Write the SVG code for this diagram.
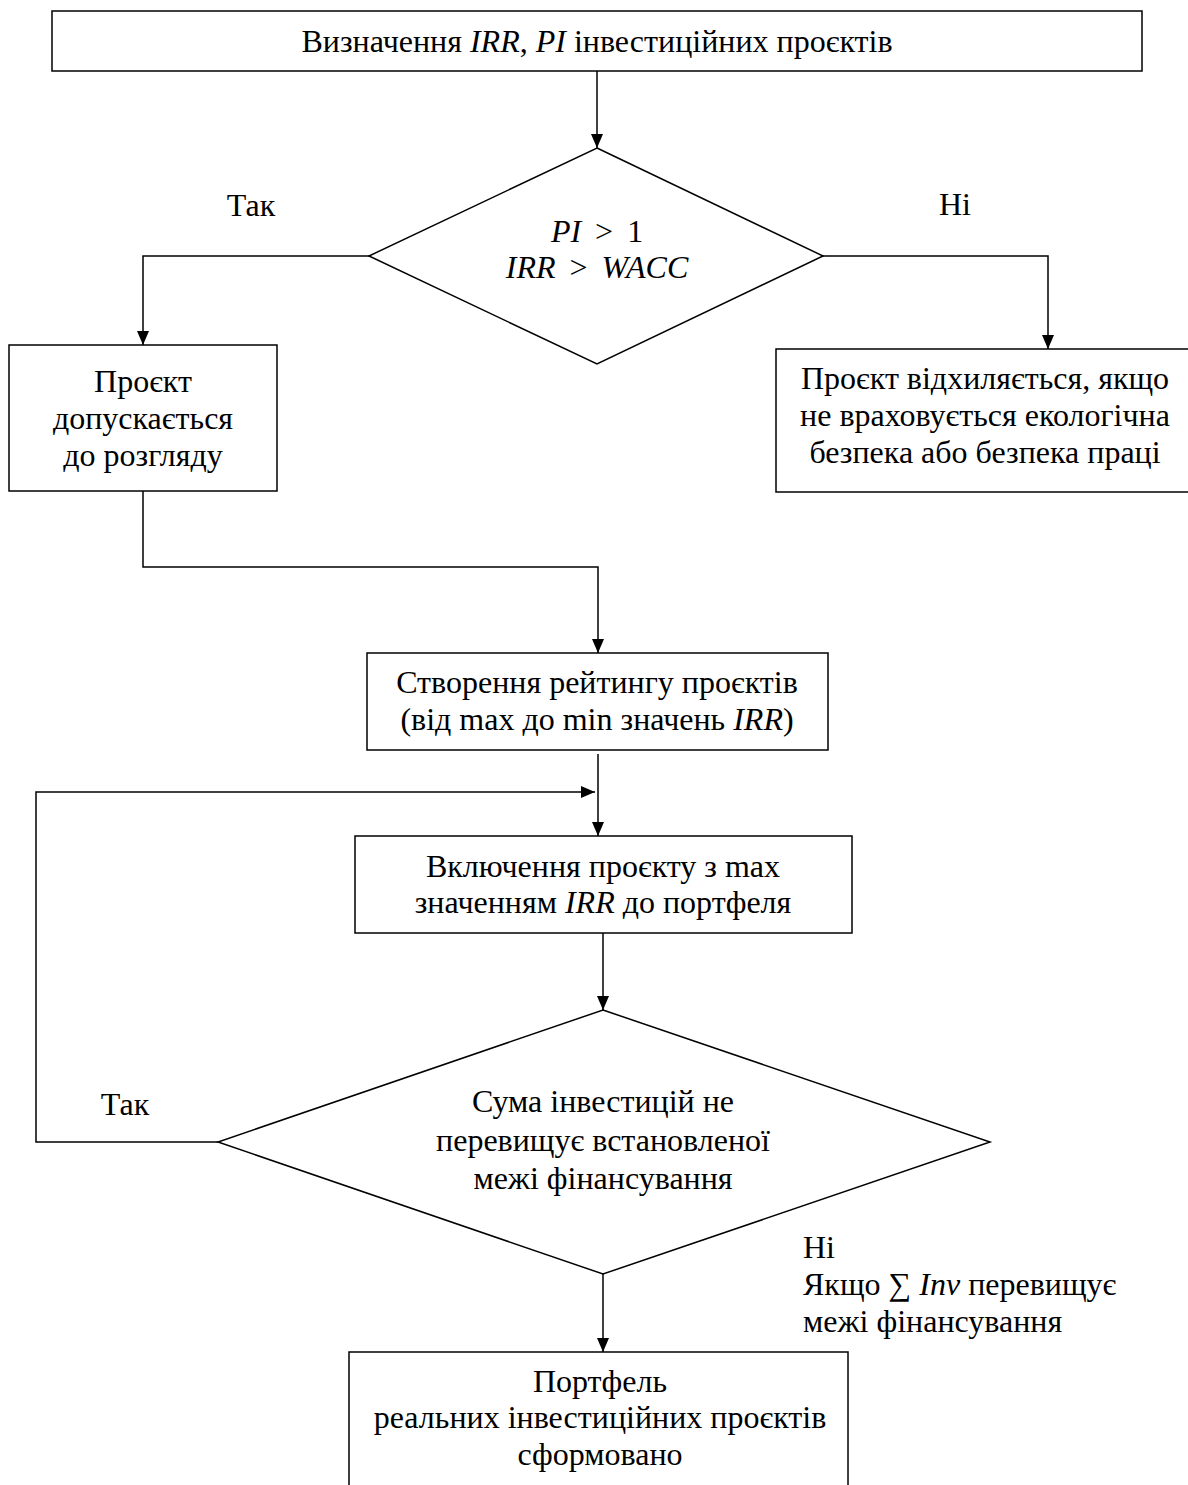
<svg xmlns="http://www.w3.org/2000/svg" width="1188" height="1485" viewBox="0 0 1188 1485">
<style>
  .box{fill:#fff;stroke:#000;stroke-width:1.5}
  .ln{fill:none;stroke:#000;stroke-width:1.5}
  text{font-family:"Liberation Serif","Times New Roman","DejaVu Serif",serif;font-size:32px;fill:#000}
  .c{text-anchor:middle}
  .i{font-style:italic}
</style>
<defs>
  <marker id="ah" viewBox="0 0 14 12" refX="14" refY="6" markerWidth="14" markerHeight="12" markerUnits="userSpaceOnUse" orient="auto">
    <path d="M0,0 L14,6 L0,12 z" fill="#000"/>
  </marker>
</defs>
<rect x="0" y="0" width="1188" height="1485" fill="#fff"/>

<g id="connectors">
  <path class="ln" d="M597,71 V148" marker-end="url(#ah)"/>
  <path class="ln" d="M369,256 H143 V345" marker-end="url(#ah)"/>
  <path class="ln" d="M823,256 H1048 V349" marker-end="url(#ah)"/>
  <path class="ln" d="M143,491 V567 H598 V653" marker-end="url(#ah)"/>
  <path class="ln" d="M598,754 V836" marker-end="url(#ah)"/>
  <path class="ln" d="M218,1142 H36 V792 H595" marker-end="url(#ah)"/>
  <path class="ln" d="M603,933 V1010" marker-end="url(#ah)"/>
  <path class="ln" d="M603,1274 V1352" marker-end="url(#ah)"/>
</g>

<g id="start">
  <rect class="box" x="52" y="11" width="1090" height="60"/>
  <text class="c" x="597" y="52">Визначення <tspan class="i">IRR</tspan>, <tspan class="i">PI</tspan> інвестиційних проєктів</text>
</g>

<g id="decision1">
  <polygon class="box" points="597,148 823,256 597,364 369,256"/>
  <text class="c" x="597" y="242"><tspan class="i">PI</tspan><tspan dx="6"> &gt;</tspan><tspan dx="6"> 1</tspan></text>
  <text class="c" x="597" y="278"><tspan class="i">IRR</tspan><tspan dx="6"> &gt;</tspan><tspan class="i" dx="6"> WACC</tspan></text>
</g>

<g id="label-yes1"><text class="c" x="251" y="216">Так</text></g>
<g id="label-no1"><text class="c" x="955" y="215">Ні</text></g>

<g id="accepted">
  <rect class="box" x="9" y="345" width="268" height="146"/>
  <text class="c" x="143" y="392">Проєкт</text>
  <text class="c" x="143" y="429">допускається</text>
  <text class="c" x="143" y="466">до розгляду</text>
</g>

<g id="rejected">
  <rect class="box" x="776" y="349" width="420" height="143"/>
  <text class="c" x="985" y="389">Проєкт відхиляється, якщо</text>
  <text class="c" x="985" y="426">не враховується екологічна</text>
  <text class="c" x="985" y="463">безпека або безпека праці</text>
</g>

<g id="rating">
  <rect class="box" x="367" y="653" width="461" height="97"/>
  <text class="c" x="597" y="693">Створення рейтингу проєктів</text>
  <text class="c" x="597" y="730">(від max до min значень <tspan class="i">IRR</tspan>)</text>
</g>

<g id="include">
  <rect class="box" x="355" y="836" width="497" height="97"/>
  <text class="c" x="603" y="877">Включення проєкту з max</text>
  <text class="c" x="603" y="913">значенням <tspan class="i">IRR</tspan> до портфеля</text>
</g>

<g id="decision2">
  <polygon class="box" points="603,1010 990,1142 603,1274 218,1142"/>
  <text class="c" x="603" y="1112">Сума інвестицій не</text>
  <text class="c" x="603" y="1151">перевищує встановленої</text>
  <text class="c" x="603" y="1189">межі фінансування</text>
</g>

<g id="label-yes2"><text class="c" x="125" y="1115">Так</text></g>
<g id="label-no2">
  <text x="803" y="1258">Ні</text>
  <text x="803" y="1295">Якщо ∑ <tspan class="i">Inv</tspan> перевищує</text>
  <text x="803" y="1332">межі фінансування</text>
</g>

<g id="portfolio">
  <rect class="box" x="349" y="1352" width="499" height="140"/>
  <text class="c" x="600" y="1392">Портфель</text>
  <text class="c" x="600" y="1428">реальних інвестиційних проєктів</text>
  <text class="c" x="600" y="1465">сформовано</text>
</g>
</svg>
